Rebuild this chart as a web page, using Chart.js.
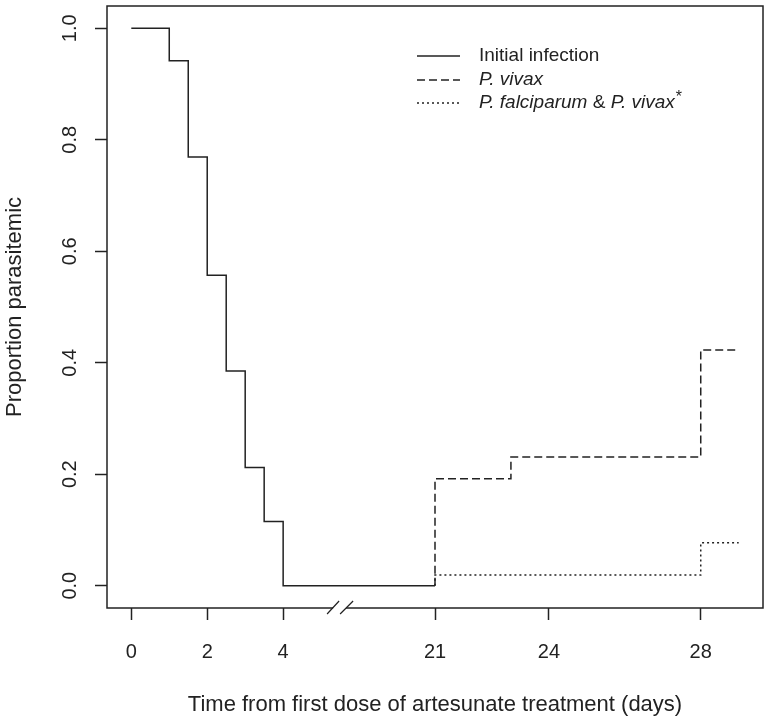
<!DOCTYPE html>
<html>
<head>
<meta charset="utf-8">
<script src="https://cdn.jsdelivr.net/npm/chart.js@4"></script>
<style>
  body { margin: 0; background: #fff; }
  #wrap { width: 771px; height: 725px; }
</style>
</head>
<body>
<div id="wrap"><canvas id="myChart" width="771" height="725"></canvas></div>
<script>
// Kaplan-Meier style step data (days, proportion)
var initDays = [0, 1, 1.5, 2, 2.5, 3, 3.5, 4, 21];
var initProp = [1, 0.942, 0.769, 0.557, 0.385, 0.212, 0.115, 0, 0];

var vivaxDays = [21, 21, 23, 28, 29];
var vivaxProp = [0, 0.192, 0.231, 0.423, 0.423];

var mixDays = [21, 21, 28, 29];
var mixProp = [0, 0.019, 0.077, 0.077];

var xTickDays = [0, 2, 4, 21, 24, 28];
var yTicks = [0, 0.2, 0.4, 0.6, 0.8, 1.0];

var legendLabels = [
  [{ t: "Initial infection" }],
  [{ t: "P. vivax", i: true }],
  [{ t: "P. falciparum", i: true }, { t: " & " }, { t: "P. vivax", i: true }, { t: "*", sup: true }]
];
var legendDash = [[], [8, 4], [2, 3]];

// broken x axis: days 4..21 squeezed into 4 units
function axisPos(d) { return d <= 4 ? d : d - 13; }
function axisDay(p) { return p <= 4 ? p : p + 13; }

function toPoints(days, vals) {
  return days.map(function (d, i) { return { x: axisPos(d), y: vals[i] }; });
}

var FONT = "'Liberation Sans', Arial, sans-serif";
var INK = "#222";
Chart.defaults.font.family = FONT;
Chart.defaults.color = INK;

var boxAndExtras = {
  id: "boxAndExtras",
  afterDraw: function (chart) {
    var ctx = chart.ctx;
    var a = chart.chartArea;
    var xs = chart.scales.x;
    ctx.save();
    // plot box
    ctx.strokeStyle = INK;
    ctx.lineWidth = 1.5;
    ctx.strokeRect(a.left, a.top, a.right - a.left, a.bottom - a.top);

    // axis break marks "//"
    var bx = xs.getPixelForValue(5.5);
    ctx.fillStyle = "#fff";
    ctx.fillRect(bx - 7, a.bottom - 2, 13, 4);
    ctx.beginPath();
    ctx.moveTo(bx - 13, a.bottom + 6); ctx.lineTo(bx - 1, a.bottom - 7);
    ctx.moveTo(bx, a.bottom + 6); ctx.lineTo(bx + 13, a.bottom - 7);
    ctx.lineWidth = 1.2;
    ctx.stroke();

    // legend
    var lx = 417, tx = 479;
    var ys = [56, 80, 103];
    legendLabels.forEach(function (parts, k) {
      var y = ys[k];
      ctx.beginPath();
      ctx.setLineDash(legendDash[k]);
      ctx.lineWidth = 1.5;
      ctx.moveTo(lx, y); ctx.lineTo(lx + 43, y);
      ctx.stroke();
      ctx.setLineDash([]);
      var x = tx;
      parts.forEach(function (p) {
        var size = p.sup ? 16 : 19;
        ctx.font = (p.i ? "italic " : "") + size + "px " + FONT;
        ctx.fillStyle = INK;
        ctx.textBaseline = "middle";
        ctx.textAlign = "left";
        ctx.fillText(p.t, x + (p.sup ? 1 : 0), p.sup ? y - 5 : y);
        x += ctx.measureText(p.t).width;
      });
    });
    ctx.restore();
  }
};

var ctx = document.getElementById("myChart").getContext("2d");
var myChart = new Chart(ctx, {
  type: "line",
  data: {
    datasets: [
      {
        label: "Initial infection",
        data: toPoints(initDays, initProp),
        borderColor: INK,
        borderWidth: 1.5,
        stepped: true,
        pointRadius: 0,
        fill: false
      },
      {
        label: "P. vivax",
        data: toPoints(vivaxDays, vivaxProp),
        borderColor: INK,
        borderWidth: 1.5,
        borderDash: [8, 4],
        stepped: true,
        pointRadius: 0,
        fill: false
      },
      {
        label: "P. falciparum & P. vivax*",
        data: toPoints(mixDays, mixProp),
        borderColor: INK,
        borderWidth: 1.5,
        borderDash: [2, 3],
        stepped: true,
        pointRadius: 0,
        fill: false
      }
    ]
  },
  options: {
    responsive: false,
    animation: false,
    layout: { padding: { top: 6, right: 8, left: 0, bottom: 0 } },
    plugins: {
      legend: { display: false },
      tooltip: { enabled: false }
    },
    scales: {
      x: {
        type: "linear",
        min: -0.64,
        max: 16.64,
        afterBuildTicks: function (s) {
          s.ticks = xTickDays.map(function (d) { return { value: axisPos(d) }; });
        },
        afterFit: function (s) {
          s.height = 117;
          s.paddingLeft = 0; s.paddingRight = 0;
        },
        grid: { drawOnChartArea: false, drawTicks: true, tickLength: 12, tickColor: INK, tickWidth: 1.5 },
        border: { display: false },
        ticks: {
          font: { size: 20 },
          padding: 20,
          maxRotation: 0,
          callback: function (v) { return String(axisDay(v)); }
        },
        title: {
          display: true,
          text: "Time from first dose of artesunate treatment (days)",
          font: { size: 22 },
          padding: { top: 0, bottom: 7 }
        }
      },
      y: {
        type: "linear",
        min: -0.04,
        max: 1.04,
        afterBuildTicks: function (s) {
          s.ticks = yTicks.map(function (v) { return { value: v }; });
        },
        afterFit: function (s) {
          s.width = 107;
          s.paddingTop = 0; s.paddingBottom = 0;
        },
        grid: { drawOnChartArea: false, drawTicks: true, tickLength: 12, tickColor: INK, tickWidth: 1.5 },
        border: { display: false },
        ticks: {
          font: { size: 20 },
          padding: 11,
          minRotation: 90,
          maxRotation: 90,
          crossAlign: "center",
          callback: function (v) { return v.toFixed(1); }
        },
        title: {
          display: true,
          text: "Proportion parasitemic",
          font: { size: 22 },
          padding: { top: 2, bottom: 0 }
        }
      }
    }
  },
  plugins: [boxAndExtras]
});
</script>
</body>
</html>
